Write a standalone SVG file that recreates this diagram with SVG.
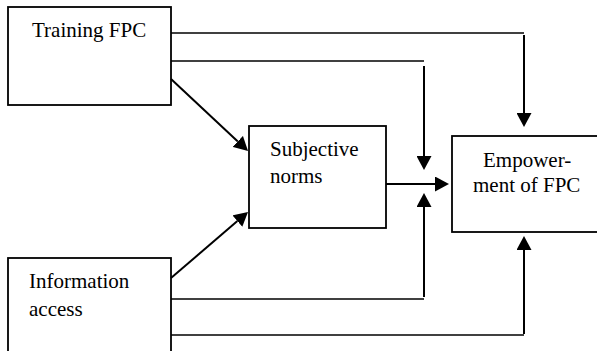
<svg xmlns="http://www.w3.org/2000/svg" width="597" height="351" viewBox="0 0 597 351">
<style>
.box{fill:#fff;stroke:#000;stroke-width:1.8}
.lbl{font-family:"Liberation Serif","Times New Roman",serif;font-size:21px;fill:#000}
.c{fill:none;stroke:#000;stroke-width:2}
.h{fill:none;stroke:#000;stroke-width:1.6}
</style>
<defs>
<marker id="ah" viewBox="0 0 14 15" refX="0" refY="7.5" markerWidth="14" markerHeight="15" orient="auto" markerUnits="userSpaceOnUse">
<path d="M0,0 L14,7.5 L0,15 z" fill="#000"/>
</marker>
</defs>
<rect width="597" height="351" fill="#fff"/>
<g id="training">
<rect class="box" x="8" y="7" width="163" height="98"/>
<text class="lbl" x="32" y="37">Training FPC</text>
</g>
<g id="subjective">
<rect class="box" x="249" y="126" width="137" height="102"/>
<text class="lbl" x="270" y="156">Subjective</text>
<text class="lbl" x="270" y="183">norms</text>
</g>
<g id="empowerment">
<rect class="box" x="452" y="136" width="150" height="96"/>
<text class="lbl" x="483" y="167">Empower-</text>
<text class="lbl" x="473" y="192">ment of FPC</text>
</g>
<g id="information">
<rect class="box" x="8" y="258" width="163" height="100"/>
<text class="lbl" x="29" y="288">Information</text>
<text class="lbl" x="29" y="316">access</text>
</g>
<g id="connectors">
<polyline class="h" points="171,33 524,33"/>
<line class="c" x1="524" y1="35" x2="524" y2="113" marker-end="url(#ah)"/>
<polyline class="h" points="171,61 424,61"/>
<line class="c" x1="424" y1="66" x2="424" y2="156" marker-end="url(#ah)"/>
<line class="c" x1="171" y1="79" x2="237.8" y2="141.4" marker-end="url(#ah)"/>
<line class="c" x1="171" y1="278" x2="237.4" y2="221.1" marker-end="url(#ah)"/>
<line class="c" x1="386" y1="184" x2="435" y2="184" marker-end="url(#ah)"/>
<polyline class="h" points="171,299 424,299"/>
<line class="c" x1="424" y1="297" x2="424" y2="207" marker-end="url(#ah)"/>
<polyline class="h" points="171,335 524,335"/>
<line class="c" x1="524" y1="334" x2="524" y2="250" marker-end="url(#ah)"/>
</g>
</svg>
